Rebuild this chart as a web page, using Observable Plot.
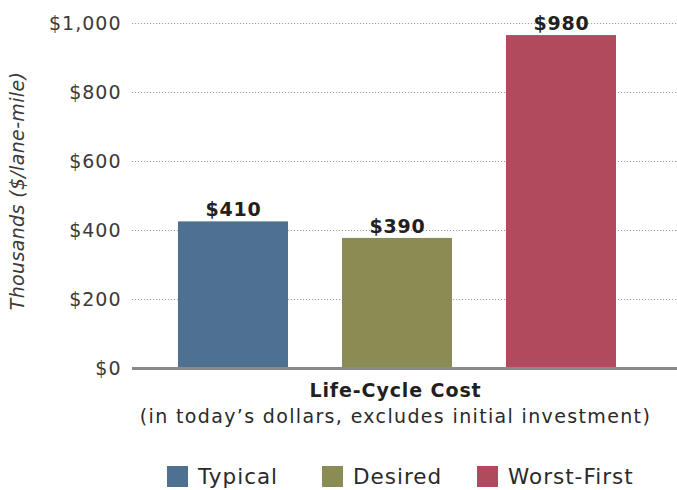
<!DOCTYPE html>
<html>
<head>
<meta charset="utf-8">
<script src="https://cdn.jsdelivr.net/npm/d3@7"></script>
<script src="https://cdn.jsdelivr.net/npm/@observablehq/plot@0.6"></script>
<style>
  body { margin: 0; background: #fff; font-family: "DejaVu Sans", sans-serif; color: #231f20; }
  #wrap { position: relative; width: 677px; height: 490px; }
  #chart { position: absolute; top: 0; left: 0; }
  .abs { position: absolute; left: 0; width: 677px; box-sizing: border-box; padding-left: 114px; text-align: center; line-height: 20px; white-space: nowrap; }
  #title { top: 380px; font-size: 19px; font-weight: 700; letter-spacing: 0.9px; }
  #sub { top: 406px; font-size: 19px; letter-spacing: 1.35px; color: #2a2a2a; }
  #legend { position: absolute; top: 466px; left: 0; width: 677px; height: 22px; }
  .item { position: absolute; top: 0; display: flex; align-items: center; font-size: 21.5px; line-height: 21px; letter-spacing: 1px; color: #2a2a2a; }
  .sw { width: 21px; height: 21px; margin-right: 10px; }
</style>
</head>
<body>
<div id="wrap">
  <div id="chart"></div>
  <div id="title" class="abs">Life-Cycle Cost</div>
  <div id="sub" class="abs">(in today’s dollars, excludes initial investment)</div>
  <div id="legend"></div>
</div>
<script>
const categories = ["Typical", "Desired", "Worst-First"];
const barValues = [425, 377, 965];
const valueLabels = ["$410", "$390", "$980"];
const colors = ["#4e7191", "#8b8c53", "#b24a5d"];
const yTicks = [0, 200, 400, 600, 800, 1000];
const yTitle = "Thousands ($/lane-mile)";
const legendX = [167, 322, 477];

const data = categories.map((c, i) => ({category: c, value: barValues[i], label: valueLabels[i]}));

const chart = Plot.plot({
  width: 677,
  height: 380,
  marginLeft: 132,
  marginRight: 0,
  marginTop: 23,
  marginBottom: 12,
  style: {fontFamily: "'DejaVu Sans', sans-serif", fontSize: "19px", color: "#333", background: "transparent", letterSpacing: "1px"},
  x: {domain: categories, range: [178, 616], paddingInner: 0.33, paddingOuter: 0, axis: null},
  y: {domain: [0, 1000], axis: null},
  color: {domain: categories, range: colors},
  marks: [
    Plot.ruleY(yTicks.filter(d => d > 0), {stroke: "#a0a0a0", strokeDasharray: "1.2,1.8", strokeWidth: 1}),
    Plot.barY(data, {x: "category", y: "value", fill: "category"}),
    Plot.ruleY([0], {stroke: "#8a8a8a", strokeWidth: 3}),
    Plot.axisY(yTicks, {tickSize: 0, tickPadding: 11, tickFormat: d => "$" + d3.format(",")(d), label: null, fill: "#3a3a3a", fontSize: 19}),
    Plot.text(data, {x: "category", y: "value", text: "label", dy: -12, fontWeight: "bold", fontSize: 19, fill: "#231f20"}),
    Plot.text([yTitle], {frameAnchor: "left", textAnchor: "middle", dx: -115, dy: -5, rotate: -90, fontStyle: "italic", fontSize: 19, fill: "#3a3a3a"})
  ]
});
const textGroups = chart.querySelectorAll('g[aria-label="text"]');
textGroups.forEach((g, i) => { g.style.letterSpacing = i === 0 ? "0.8px" : "0.35px"; });
document.getElementById("chart").appendChild(chart);

const legend = document.getElementById("legend");
categories.forEach((c, i) => {
  const item = document.createElement("div");
  item.className = "item";
  item.style.left = legendX[i] + "px";
  const sw = document.createElement("div");
  sw.className = "sw";
  sw.style.background = colors[i];
  const t = document.createElement("span");
  t.textContent = c;
  item.appendChild(sw);
  item.appendChild(t);
  legend.appendChild(item);
});
</script>
</body>
</html>
